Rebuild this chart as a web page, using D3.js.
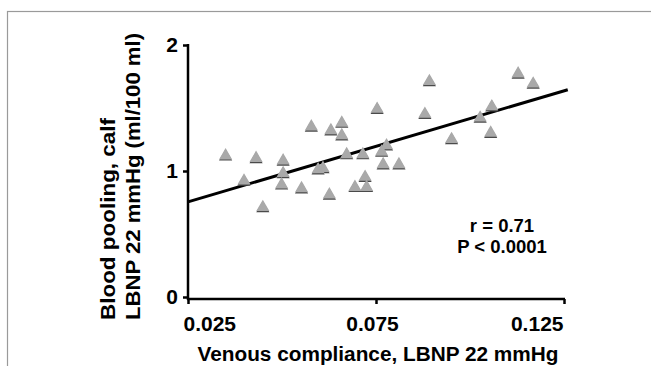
<!DOCTYPE html>
<html>
<head>
<meta charset="utf-8">
<script src="https://cdn.jsdelivr.net/npm/d3@7"></script>
<style>
  body { margin: 0; background: #fff; }
  text { font-family: "Liberation Sans", Arial, sans-serif; font-weight: bold; fill: #000; }
</style>
</head>
<body>
<svg id="chart" width="651" height="366"></svg>
<script>
// venous compliance (x) and calf blood pooling (y) per subject
const compliance = [0.0350, 0.0399, 0.0431, 0.0449, 0.0503, 0.0503, 0.0499, 0.0552, 0.0578, 0.0596,
                    0.0609, 0.0630, 0.0626, 0.0659, 0.0659, 0.0672, 0.0694, 0.0715, 0.0721, 0.0725,
                    0.0753, 0.0765, 0.0778, 0.0769, 0.0811, 0.0880, 0.0892, 0.0951, 0.1027, 0.1058,
                    0.1055, 0.1128, 0.1168];
const pooling = [1.13, 0.93, 1.11, 0.72, 1.09, 0.99, 0.90, 0.87, 1.36, 1.02,
                 1.03, 1.33, 0.82, 1.39, 1.29, 1.14, 0.88, 1.14, 0.96, 0.88,
                 1.50, 1.16, 1.21, 1.06, 1.06, 1.46, 1.72, 1.26, 1.43, 1.52,
                 1.31, 1.78, 1.70];
// regression line end points
const fitX = [0.025, 0.126];
const fitY = [0.755, 1.645];
const xTicks = [0.025, 0.075, 0.125];
const yTicks = [0, 1, 2];
const stats = ["r = 0.71", "P < 0.0001"];

const svg = d3.select('#chart');

// outer frame
svg.append('rect')
  .attr('x', 7.5).attr('y', 11.5)
  .attr('width', 700).attr('height', 400)
  .attr('fill', 'none').attr('stroke', '#9a9a9a').attr('stroke-width', 1.2);

const x = d3.scaleLinear().domain([0.025, 0.125]).range([188, 564]);
const y = d3.scaleLinear().domain([0, 2]).range([297, 45]);

const xAxis = d3.axisBottom(x).tickValues(xTicks).tickFormat(d3.format('.3f'))
  .tickSize(5).tickSizeOuter(0).tickPadding(12);
const yAxis = d3.axisLeft(y).tickValues(yTicks).tickFormat(d3.format('d'))
  .tickSize(5).tickSizeOuter(0).tickPadding(5);

const gx = svg.append('g').attr('transform', 'translate(0,299)').call(xAxis);
gx.select('.domain').attr('d', 'M187,0H565');
gx.selectAll('text')
  .style('font-size', '21px').attr('font-family', null)
  .attr('text-anchor', (d, i) => i === 0 ? 'start' : (i === xTicks.length - 1 ? 'end' : 'middle'))
  .attr('dx', (d, i) => i === 0 ? -5 : (i === xTicks.length - 1 ? -1 : -4));

const gy = svg.append('g').attr('transform', 'translate(188,0)').call(yAxis);
gy.select('.domain').attr('d', 'M0,44V300');
gy.selectAll('text').style('font-size', '21px').attr('font-family', null);

svg.selectAll('.domain, .tick line')
  .attr('stroke', '#000').attr('stroke-width', 2.5);

// axis titles
svg.append('text')
  .attr('x', 378).attr('y', 361)
  .attr('text-anchor', 'middle')
  .attr('textLength', 361).attr('lengthAdjust', 'spacingAndGlyphs')
  .style('font-size', '19.5px')
  .text('Venous compliance, LBNP 22 mmHg');

svg.append('text')
  .attr('transform', 'translate(115,320) rotate(-90)')
  .attr('textLength', 202).attr('lengthAdjust', 'spacingAndGlyphs')
  .style('font-size', '19.5px')
  .text('Blood pooling, calf');
svg.append('text')
  .attr('transform', 'translate(140,320) rotate(-90)')
  .attr('textLength', 287).attr('lengthAdjust', 'spacingAndGlyphs')
  .style('font-size', '19.5px')
  .text('LBNP 22 mmHg (ml/100 ml)');

// regression line
svg.append('line')
  .attr('x1', x(fitX[0])).attr('y1', y(fitY[0]))
  .attr('x2', x(fitX[1])).attr('y2', y(fitY[1]))
  .attr('stroke', '#000').attr('stroke-width', 3);

// points
const tri = d3.symbol().type(d3.symbolTriangle).size(75);
const pts = compliance.map((c, i) => [c, pooling[i]]);
const gp = svg.append('g');
gp.selectAll('path.shadow')
  .data(pts).enter().append('path')
  .attr('class', 'shadow')
  .attr('d', tri)
  .attr('transform', d => `translate(${x(d[0])},${y(d[1]) + 2.2})`)
  .attr('fill', '#4a4a4a');
gp.selectAll('path.pt')
  .data(pts).enter().append('path')
  .attr('class', 'pt')
  .attr('d', tri)
  .attr('transform', d => `translate(${x(d[0])},${y(d[1]) + 1})`)
  .attr('fill', '#a9a9a9');

// stats
svg.selectAll('text.stat')
  .data(stats).enter().append('text')
  .attr('class', 'stat')
  .attr('x', 502).attr('y', (d, i) => 232 + i * 21)
  .attr('text-anchor', 'middle')
  .style('font-size', '18.5px')
  .text(d => d);
</script>
</body>
</html>
